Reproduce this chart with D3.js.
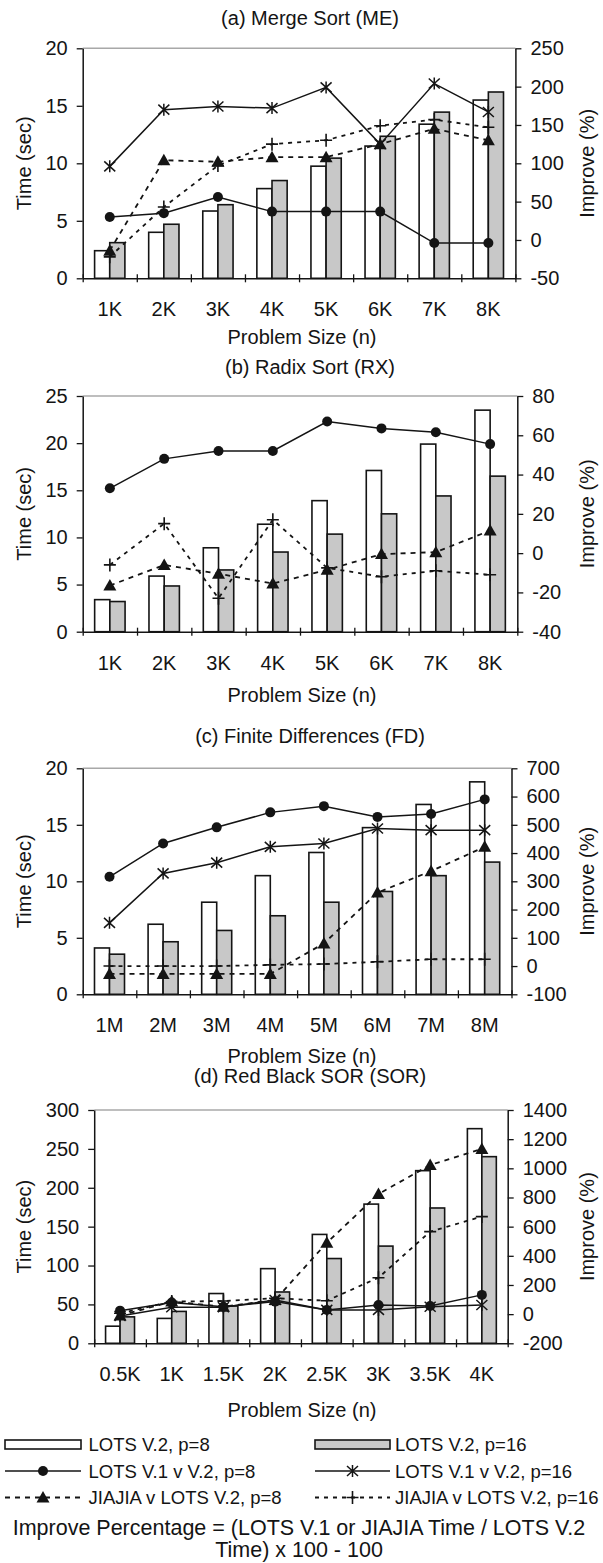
<!DOCTYPE html>
<html>
<head>
<meta charset="utf-8">
<script src="https://cdn.jsdelivr.net/npm/d3@7/dist/d3.min.js"></script>
<style>
  body { margin: 0; background: #fff; }
  svg text { font-family: "Liberation Sans", Arial, Helvetica, sans-serif; fill: #141414; }
</style>
</head>
<body>
<script>
// categories (problem sizes)
const sizesK = ['1K', '2K', '3K', '4K', '5K', '6K', '7K', '8K']
const sizesM = ['1M', '2M', '3M', '4M', '5M', '6M', '7M', '8M']
const sizesSOR = ['0.5K', '1K', '1.5K', '2K', '2.5K', '3K', '3.5K', '4K']

const titles = ['(a) Merge Sort (ME)', '(b) Radix Sort (RX)', '(c) Finite Differences (FD)', '(d) Red Black SOR (SOR)']

// tick values
const timeTicksME = [0, 5, 10, 15, 20]
const impTicksME = [-50, 0, 50, 100, 150, 200, 250]
const timeTicksRX = [0, 5, 10, 15, 20, 25]
const impTicksRX = [-40, -20, 0, 20, 40, 60, 80]
const timeTicksFD = [0, 5, 10, 15, 20]
const impTicksFD = [-100, 0, 100, 200, 300, 400, 500, 600, 700]
const timeTicksSOR = [0, 50, 100, 150, 200, 250, 300]
const impTicksSOR = [-200, 0, 200, 400, 600, 800, 1000, 1200, 1400]

// (a) merge sort
const timeP8ME = [2.4, 4.0, 5.85, 7.8, 9.75, 11.5, 13.4, 15.5]
const timeP16ME = [3.1, 4.7, 6.4, 8.5, 10.45, 12.35, 14.45, 16.2]
const v1p8ME = [30, 35, 56, 37, 37, 37, -4, -4]
const v1p16ME = [96, 170, 174, 172, 199, 125, 204, 167]
const jjp8ME = [-14, 104, 102, 108, 108, 125, 145, 130]
const jjp16ME = [-22, 43, 97, 125, 130, 149, 157, 147]

// (b) radix sort
const timeP8RX = [3.4, 5.9, 8.9, 11.4, 13.9, 17.1, 19.9, 23.5]
const timeP16RX = [3.2, 4.85, 6.55, 8.45, 10.35, 12.5, 14.4, 16.5]
const v1p8RX = [33, 48, 52, 52, 67, 63.5, 61.5, 55.5]
const v1p16RX = [null, null, null, null, null, null, null, null]
const jjp8RX = [-16.5, -6, -10.5, -15.5, -8.5, -0.5, 0.5, 11.5]
const jjp16RX = [-6, 15, -23, 17, -7.5, -12, -9, -11]

// (c) finite differences
const timeP8FD = [4.1, 6.2, 8.15, 10.5, 12.55, 14.75, 16.8, 18.8]
const timeP16FD = [3.55, 4.65, 5.65, 6.95, 8.15, 9.1, 10.5, 11.7]
const v1p8FD = [316, 434, 491, 544, 566, 528, 538, 590]
const v1p16FD = [153, 328, 366, 422, 434, 487, 481, 481]
const jjp8FD = [-28, -28, -28, -28, 80, 260, 336, 422]
const jjp16FD = [0, 0, 0, 4, 7, 15, 24, 24]

// (d) red black SOR
const timeP8SOR = [22, 32, 64, 96, 140, 179, 222, 276]
const timeP16SOR = [34, 41, 48, 66, 109, 125, 174, 240]
const v1p8SOR = [24, 79, 51, 86, 29, 63, 56, 132]
const v1p16SOR = [-12, 47, 47, 97, 29, 29, 51, 63]
const jjp8SOR = [-10, 86, 51, 97, 489, 824, 1023, 1133]
const jjp16SOR = [6, 86, 90, 109, 92, 250, 566, 669]

const legendLabels = ['LOTS V.2, p=8', 'LOTS V.2, p=16', 'LOTS V.1 v V.2, p=8', 'LOTS V.1 v V.2, p=16',
  'JIAJIA v LOTS V.2, p=8', 'JIAJIA v LOTS V.2, p=16']
const footnote = ['Improve Percentage = (LOTS V.1 or JIAJIA Time / LOTS V.2', 'Time) x 100 - 100']

const W = 603, H = 1563
const GRAY = '#c8c8c8'
const INK = '#141414'

const panels = [
  { cats: sizesK, title: titles[0], tt: timeTicksME, it: impTicksME, p8: timeP8ME, p16: timeP16ME,
    v1p8: v1p8ME, v1p16: v1p16ME, jj8: jjp8ME, jj16: jjp16ME,
    top: 48.3, bottom: 278.3, left: 82.7, right: 515.4, titleY: 25, axisY: 344 },
  { cats: sizesK, title: titles[1], tt: timeTicksRX, it: impTicksRX, p8: timeP8RX, p16: timeP16RX,
    v1p8: v1p8RX, v1p16: v1p16RX, jj8: jjp8RX, jj16: jjp16RX,
    top: 396, bottom: 631.7, left: 82.7, right: 517.3, titleY: 374, axisY: 702 },
  { cats: sizesM, title: titles[2], tt: timeTicksFD, it: impTicksFD, p8: timeP8FD, p16: timeP16FD,
    v1p8: v1p8FD, v1p16: v1p16FD, jj8: jjp8FD, jj16: jjp16FD,
    top: 768.3, bottom: 994.3, left: 82.7, right: 511.5, titleY: 743, axisY: 1062.7 },
  { cats: sizesSOR, title: titles[3], tt: timeTicksSOR, it: impTicksSOR, p8: timeP8SOR, p16: timeP16SOR,
    v1p8: v1p8SOR, v1p16: v1p16SOR, jj8: jjp8SOR, jj16: jjp16SOR,
    top: 1110, bottom: 1343.3, left: 94.2, right: 507.7, titleY: 1082.5, axisY: 1417 }
]

const svg = d3.select('body').append('svg')
  .attr('width', W).attr('height', H)
  .style('display', 'block')

svg.append('rect').attr('width', W).attr('height', H).attr('fill', '#fff')

// plain numbers, ascii hyphen for negatives, no thousands separator
const plain = d => String(d)

// marker painters
function drawMarker(g, type, x, y) {
  if (type === 'circle') {
    g.append('circle').attr('cx', x).attr('cy', y).attr('r', 5).attr('fill', INK)
  } else if (type === 'triangle') {
    g.append('path').attr('d', `M${x},${y - 6.5}L${x + 6.5},${y + 5}L${x - 6.5},${y + 5}Z`).attr('fill', INK)
  } else if (type === 'star') {
    g.append('path')
      .attr('d', `M${x - 5.5},${y - 5}L${x + 5.5},${y + 5}M${x - 5.5},${y + 5}L${x + 5.5},${y - 5}M${x},${y - 6}L${x},${y + 6}`)
      .attr('stroke', INK).attr('stroke-width', 1.5).attr('fill', 'none')
  } else if (type === 'plus') {
    g.append('path')
      .attr('d', `M${x - 6},${y}L${x + 6},${y}M${x},${y - 6.5}L${x},${y + 6.5}`)
      .attr('stroke', INK).attr('stroke-width', 1.6).attr('fill', 'none')
  }
}

function styleAxis(sel, size) {
  sel.attr('font-size', size).attr('font-family', null)
  sel.selectAll('line').attr('stroke', INK).attr('stroke-width', 1.3)
  sel.selectAll('path.domain').attr('stroke', INK).attr('stroke-width', 1.5)
  sel.selectAll('text').attr('fill', INK)
}

function drawPanel(p) {
  const g = svg.append('g')
  const n = p.cats.length

  const x = d3.scaleBand().domain(p.cats).range([p.left, p.right])
  const xLin = d3.scaleLinear().domain([0, n]).range([p.left, p.right])
  const yT = d3.scaleLinear().domain(d3.extent(p.tt)).range([p.bottom, p.top])
  const yI = d3.scaleLinear().domain(d3.extent(p.it)).range([p.bottom, p.top])
  const cx = i => x(p.cats[i]) + x.bandwidth() / 2
  const bw = x.bandwidth() * 0.28

  // top frame line
  g.append('line')
    .attr('x1', p.left).attr('x2', p.right)
    .attr('y1', p.top).attr('y2', p.top)
    .attr('stroke', '#a8a8a8').attr('stroke-width', 1.5)

  // bars
  g.selectAll('rect.p8').data(p.p8).join('rect')
    .attr('class', 'p8')
    .attr('x', (d, i) => cx(i) - bw)
    .attr('y', d => yT(d))
    .attr('width', bw)
    .attr('height', d => yT(0) - yT(d))
    .attr('fill', '#fff').attr('stroke', INK).attr('stroke-width', 1.6)

  g.selectAll('rect.p16').data(p.p16).join('rect')
    .attr('class', 'p16')
    .attr('x', (d, i) => cx(i))
    .attr('y', d => yT(d))
    .attr('width', bw)
    .attr('height', d => yT(0) - yT(d))
    .attr('fill', GRAY).attr('stroke', INK).attr('stroke-width', 1.6)

  // improvement lines
  const series = [
    { vals: p.jj16, dash: '4,5', marker: 'plus' },
    { vals: p.jj8, dash: '5,5', marker: 'triangle' },
    { vals: p.v1p16, dash: null, marker: 'star' },
    { vals: p.v1p8, dash: null, marker: 'circle' }
  ]
  series.forEach(s => {
    const line = d3.line()
      .defined(d => d != null)
      .x((d, i) => cx(i))
      .y(d => yI(d))
    g.append('path')
      .attr('d', line(s.vals))
      .attr('fill', 'none')
      .attr('stroke', INK)
      .attr('stroke-width', s.dash ? 1.8 : 1.5)
      .attr('stroke-dasharray', s.dash)
    s.vals.forEach((v, i) => {
      if (v != null) drawMarker(g, s.marker, cx(i), yI(v))
    })
  })

  // x axis: labels at band centres, ticks at band edges
  g.append('g')
    .attr('transform', `translate(0,${p.bottom})`)
    .call(d3.axisBottom(x).tickSize(0).tickPadding(24))
    .call(sel => styleAxis(sel, 20))

  g.append('g')
    .attr('transform', `translate(0,${p.bottom - 4})`)
    .call(d3.axisBottom(xLin).tickValues(d3.range(n + 1)).tickFormat('').tickSize(8).tickSizeOuter(0))
    .call(sel => sel.select('.domain').remove())
    .call(sel => styleAxis(sel, 20))

  // left and right axes
  g.append('g')
    .attr('transform', `translate(${p.left},0)`)
    .call(d3.axisLeft(yT).tickValues(p.tt).tickFormat(plain).tickSize(6).tickPadding(9).tickSizeOuter(0))
    .call(sel => styleAxis(sel, 20))

  g.append('g')
    .attr('transform', `translate(${p.right},0)`)
    .call(d3.axisRight(yI).tickValues(p.it).tickFormat(plain).tickSize(6).tickPadding(9).tickSizeOuter(0))
    .call(sel => styleAxis(sel, 20))

  // titles
  g.append('text')
    .attr('x', 310).attr('y', p.titleY)
    .attr('text-anchor', 'middle')
    .style('font-size', '20px')
    .text(p.title)

  g.append('text')
    .attr('x', 302).attr('y', p.axisY)
    .attr('text-anchor', 'middle')
    .style('font-size', '20px')
    .text('Problem Size (n)')

  const midY = (p.top + p.bottom) / 2
  g.append('text')
    .attr('transform', `translate(24,${midY}) rotate(-90)`)
    .attr('dy', '0.35em')
    .attr('text-anchor', 'middle')
    .style('font-size', '20px')
    .text('Time (sec)')

  g.append('text')
    .attr('transform', `translate(587,${midY}) rotate(-90)`)
    .attr('dy', '0.35em')
    .attr('text-anchor', 'middle')
    .style('font-size', '20px')
    .text('Improve (%)')
}

panels.forEach(drawPanel)

// legend
const leg = svg.append('g')
const legRows = [1451, 1477.5, 1504]
const legCols = [{ x0: 5, x1: 81, tx: 88.5 }, { x0: 315, x1: 390, tx: 395 }]
const legItems = [
  { kind: 'bar', fill: '#fff' }, { kind: 'bar', fill: GRAY },
  { kind: 'line', dash: null, marker: 'circle' }, { kind: 'line', dash: null, marker: 'star' },
  { kind: 'line', dash: '5,5', marker: 'triangle' }, { kind: 'line', dash: '4,5', marker: 'plus' }
]
legItems.forEach((it, i) => {
  const col = legCols[i % 2]
  const base = legRows[Math.floor(i / 2)]
  const cy = base - 6.5
  if (it.kind === 'bar') {
    leg.append('rect')
      .attr('x', col.x0).attr('y', cy - 4.5)
      .attr('width', col.x1 - col.x0).attr('height', 9)
      .attr('fill', it.fill).attr('stroke', INK).attr('stroke-width', 1.6)
  } else {
    leg.append('line')
      .attr('x1', col.x0).attr('x2', col.x1)
      .attr('y1', cy).attr('y2', cy)
      .attr('stroke', INK).attr('stroke-width', it.dash ? 1.8 : 1.5)
      .attr('stroke-dasharray', it.dash)
    drawMarker(leg, it.marker, (col.x0 + col.x1) / 2, cy)
  }
  leg.append('text')
    .attr('x', col.tx).attr('y', base)
    .style('font-size', '18.5px')
    .text(legendLabels[i])
})

// footnote
footnote.forEach((t, i) => {
  svg.append('text')
    .attr('x', 299).attr('y', [1535, 1556.7][i])
    .attr('text-anchor', 'middle')
    .style('font-size', '21.5px')
    .text(t)
})
</script>
</body>
</html>
